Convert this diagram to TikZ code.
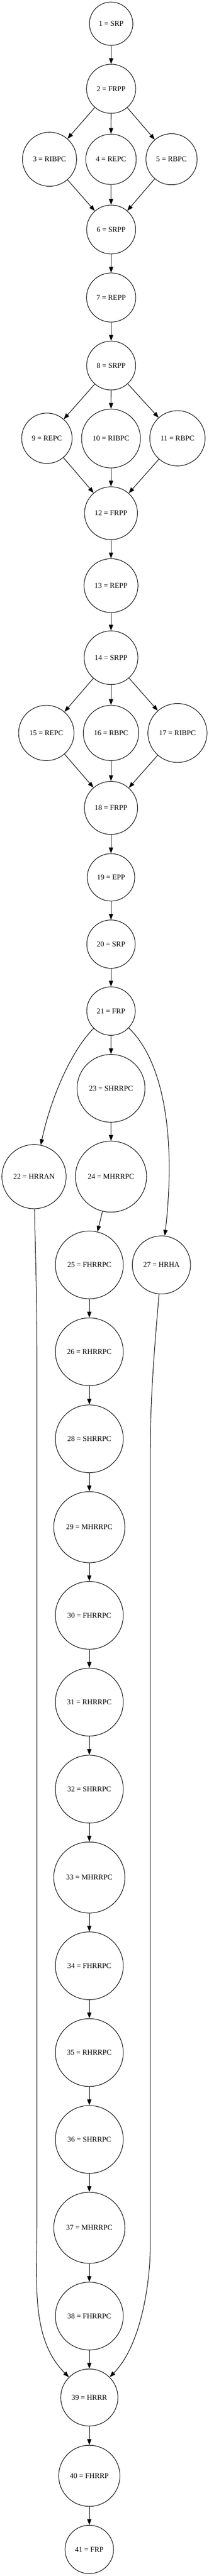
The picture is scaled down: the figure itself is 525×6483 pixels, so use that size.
\documentclass[tikz,border=0pt]{standalone}
\usepackage{fontspec}
\setmainfont{Liberation Serif}
\usetikzlibrary{arrows.meta}
\tikzset{
  gn/.style={circle, draw, line width=1pt, inner sep=0pt, font=\fontsize{14}{16}\selectfont},
  e/.style={-{Triangle[length=11pt,width=8pt]}, line width=1pt},
}
\begin{document}
\begin{tikzpicture}[x=0.75pt,y=-0.75pt]
\useasboundingbox (0,0) rectangle (525,6483);
% nodes
\node[gn, minimum size=81.8pt]  (n1)  at (279.2,59.7)   {1 = SRP};
\node[gn, minimum size=92.7pt]  (n2)  at (279.2,223.5)  {2 = FRPP};
\node[gn, minimum size=102pt]   (n3)  at (124.4,400.8)  {3 = RIBPC};
\node[gn, minimum size=95.1pt]  (n4)  at (278.9,401)    {4 = REPC};
\node[gn, minimum size=96.5pt]  (n5)  at (431,400.8)    {5 = RBPC};
\node[gn, minimum size=92.3pt]  (n6)  at (279.2,577.6)  {6 = SRPP};
\node[gn, minimum size=92.7pt]  (n7)  at (279.2,748.8)  {7 = REPP};
\node[gn, minimum size=92.3pt]  (n8)  at (279.2,920)    {8 = SRPP};
\node[gn, minimum size=95.1pt]  (n9)  at (117.8,1103)   {9 = REPC};
\node[gn, minimum size=111pt]   (n10) at (278.9,1103.6) {10 = RIBPC};
\node[gn, minimum size=104.3pt] (n11) at (445.8,1103)   {11 = RBPC};
\node[gn, minimum size=99.8pt]  (n12) at (278.9,1291.6) {12 = FRPP};
\node[gn, minimum size=101.6pt] (n13) at (278.9,1473.8) {13 = REPP};
\node[gn, minimum size=101.3pt] (n14) at (278.9,1655.3) {14 = SRPP};
\node[gn, minimum size=104.4pt] (n15) at (116.3,1844.7) {15 = REPC};
\node[gn, minimum size=104.4pt] (n16) at (278.9,1844.7) {16 = RBPC};
\node[gn, minimum size=111.3pt] (n17) at (445.9,1844.7) {17 = RIBPC};
\node[gn, minimum size=100.2pt] (n18) at (278.9,2033.2) {18 = FRPP};
\node[gn, minimum size=89.4pt]  (n19) at (278.9,2208)   {19 = EPP};
\node[gn, minimum size=91.2pt]  (n20) at (278.9,2376.1) {20 = SRP};
\node[gn, minimum size=91.4pt]  (n21) at (278.9,2544.5) {21 = FRP};
\node[gn, minimum size=128pt]   (n23) at (279,2739)     {23 = SHRRPC};
\node[gn, minimum size=121pt]   (n22) at (85.5,2961.2)  {22 = HRRAN};
\node[gn, minimum size=134pt]   (n24) at (278.9,2961.2) {24 = MHRRPC};
\node[gn, minimum size=128pt]   (n25) at (224.4,3183.4) {25 = FHRRPC};
\node[gn, minimum size=109.7pt] (n27) at (405.6,3183.4) {27 = HRHA};
\node[gn, minimum size=128pt]   (n26) at (224.4,3402)   {26 = RHRRPC};
\node[gn, minimum size=128pt]   (n28) at (224.4,3621)   {28 = SHRRPC};
\node[gn, minimum size=134.1pt] (n29) at (224.4,3843.4) {29 = MHRRPC};
\node[gn, minimum size=128pt]   (n30) at (224.4,4065.3) {30 = FHRRPC};
\node[gn, minimum size=128pt]   (n31) at (224.4,4283.6) {31 = RHRRPC};
\node[gn, minimum size=128pt]   (n32) at (224.4,4502.7) {32 = SHRRPC};
\node[gn, minimum size=134.1pt] (n33) at (224.4,4725)   {33 = MHRRPC};
\node[gn, minimum size=128pt]   (n34) at (224.4,4947.2) {34 = FHRRPC};
\node[gn, minimum size=128pt]   (n35) at (224.4,5165.6) {35 = RHRRPC};
\node[gn, minimum size=128pt]   (n36) at (224.4,5384.3) {36 = SHRRPC};
\node[gn, minimum size=134.1pt] (n37) at (224.4,5606.6) {37 = MHRRPC};
\node[gn, minimum size=128pt]   (n38) at (224.4,5828.8) {38 = FHRRPC};
\node[gn, minimum size=107.7pt] (n39) at (224.4,6033.7) {39 = HRRR};
\node[gn, minimum size=115.4pt] (n40) at (224.4,6230.8) {40 = FHRRP};
\node[gn, minimum size=91.4pt]  (n41) at (224.4,6416.1) {41 = FRP};
% straight edges
\foreach \a/\b in {1/2,2/3,2/4,2/5,3/6,4/6,5/6,6/7,7/8,8/9,8/10,8/11,9/12,10/12,11/12,
  12/13,13/14,14/15,14/16,14/17,15/18,16/18,17/18,18/19,19/20,20/21,21/23,23/24,24/25,
  25/26,26/28,28/29,29/30,30/31,31/32,32/33,33/34,34/35,35/36,36/37,37/38,38/39,39/40,40/41}
  \draw[e] (n\a) -- (n\b);
% curved edges
\draw[e] (n21) .. controls (178.4,2644.9) and (127.3,2764.7) .. (n22);
\draw[e] (n21) .. controls (411.2,2670.9) and (442.8,2860.9) .. (n27);
\draw[e] (n22) .. controls (88.5,3150) and (92.7,3250) .. (92.7,3400) -- (92.7,5600)
  .. controls (92.7,5750) and (77.7,5887) .. (n39);
\draw[e] (n27) .. controls (392,3350) and (377.6,3500) .. (377.6,3650) -- (377.6,5650)
  .. controls (377.6,5750) and (353,5904.7) .. (n39);
\end{tikzpicture}
\end{document}
